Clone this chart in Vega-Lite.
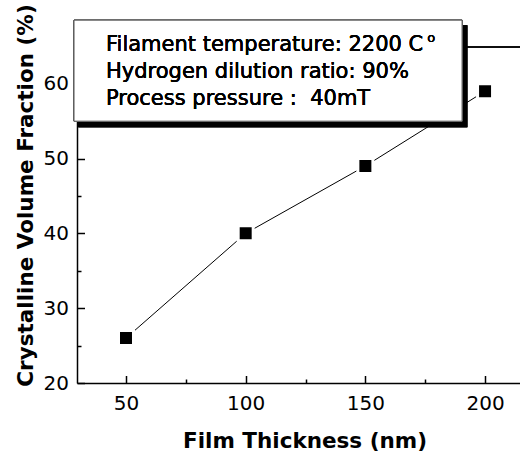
{
  "$schema": "https://vega.github.io/schema/vega-lite/v6.json",
  "width": 443,
  "height": 336,
  "autosize": {"type": "none"},
  "padding": {"left": 77, "top": 47, "right": 0, "bottom": 72},
  "background": "white",
  "config": {
    "view": {"stroke": null},
    "font": "DejaVu Sans",
    "axis": {
      "labelFont": "DejaVu Sans",
      "labelFontSize": 20,
      "labelColor": "black",
      "titleFont": "DejaVu Sans",
      "titleFontSize": 21.5,
      "titleFontWeight": "bold",
      "titleColor": "black",
      "domainColor": "black",
      "domainWidth": 1.5,
      "tickColor": "black",
      "tickWidth": 1.5,
      "grid": false
    }
  },
  "data": {
    "values": [
      {"thickness": 50, "fraction": 26},
      {"thickness": 100, "fraction": 40},
      {"thickness": 150, "fraction": 49},
      {"thickness": 200, "fraction": 59}
    ]
  },
  "resolve": {"axis": {"x": "independent", "y": "independent"}},
  "layer": [
    {
      "mark": {"type": "line", "color": "black", "strokeWidth": 1},
      "encoding": {
        "x": {
          "field": "thickness",
          "type": "quantitative",
          "scale": {"domain": [29.53, 214.6], "nice": false, "zero": false},
          "axis": {
            "orient": "bottom",
            "title": "Film Thickness (nm)",
            "values": [50, 100, 150, 200],
            "tickSize": -7.5,
            "labelPadding": 18,
            "titleX": 227.5,
            "titleY": 64,
            "titleBaseline": "alphabetic",
            "titleAnchor": "start",
            "titleAlign": "center"
          }
        },
        "y": {
          "field": "fraction",
          "type": "quantitative",
          "scale": {"domain": [20, 64.9], "nice": false, "zero": false},
          "axis": {
            "orient": "left",
            "title": "Crystalline Volume Fraction (%)",
            "values": [20, 30, 40, 50, 60],
            "tickSize": -7.5,
            "labelPadding": 16,
            "titleX": -45,
            "titleY": 148,
            "titleAngle": -90,
            "titleBaseline": "alphabetic",
            "titleAlign": "center"
          }
        }
      }
    },
    {
      "mark": {"type": "square", "filled": true, "color": "black", "size": 225, "stroke": "white", "strokeWidth": 3, "opacity": 1},
      "encoding": {
        "x": {
          "field": "thickness",
          "type": "quantitative",
          "axis": {"orient": "bottom", "values": [75, 125, 175], "tickSize": -4, "labels": false, "domain": false, "title": null}
        },
        "y": {
          "field": "fraction",
          "type": "quantitative",
          "axis": {"orient": "left", "values": [25, 35, 45, 55], "tickSize": -4, "labels": false, "domain": false, "title": null}
        }
      }
    },
    {
      "mark": {"type": "rule", "color": "black", "strokeWidth": 1.2},
      "encoding": {"y": {"datum": 64.9, "type": "quantitative", "axis": null}}
    },
    {
      "mark": {"type": "rect", "color": "black"},
      "encoding": {
        "x": {"datum": 30.07, "type": "quantitative", "axis": null},
        "x2": {"datum": 192.6},
        "y": {"datum": 67.82, "type": "quantitative", "axis": null},
        "y2": {"datum": 54.18}
      }
    },
    {
      "mark": {"type": "rect", "fill": "white", "stroke": "#555555", "strokeWidth": 1},
      "encoding": {
        "x": {"datum": 28.28, "type": "quantitative", "axis": null},
        "x2": {"datum": 190.4},
        "y": {"datum": 68.49, "type": "quantitative", "axis": null},
        "y2": {"datum": 54.99}
      }
    },
    {
      "mark": {"type": "text", "align": "left", "baseline": "alphabetic", "font": "DejaVu Sans", "fontSize": 21, "lineHeight": 27, "color": "black"},
      "encoding": {
        "x": {"datum": 41.65, "type": "quantitative", "axis": null},
        "y": {"datum": 64.35, "type": "quantitative", "axis": null},
        "text": {"value": ["Filament temperature: 2200 C", "Hydrogen dilution ratio: 90%", "Process pressure :\u00a0 40mT"]}
      }
    },
    {
      "mark": {"type": "text", "align": "left", "baseline": "alphabetic", "font": "DejaVu Sans", "fontSize": 13, "color": "black"},
      "encoding": {
        "x": {"datum": 175.9, "type": "quantitative", "axis": null},
        "y": {"datum": 65.55, "type": "quantitative", "axis": null},
        "text": {"value": "o"}
      }
    }
  ]
}
